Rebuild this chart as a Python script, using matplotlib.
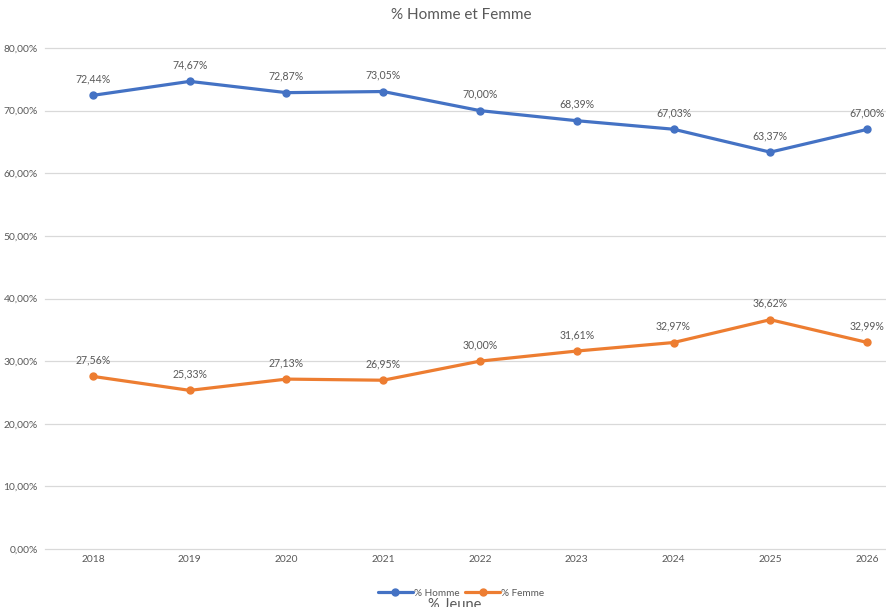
import matplotlib
matplotlib.use("Agg")
import matplotlib.pyplot as plt

years = ["2018", "2019", "2020", "2021", "2022", "2023", "2024", "2025", "2026"]
homme = [72.44, 74.67, 72.87, 73.05, 70.00, 68.39, 67.03, 63.37, 67.00]
femme = [27.56, 25.33, 27.13, 26.95, 30.00, 31.61, 32.97, 36.62, 32.99]
series_names = ["% Homme", "% Femme"]
yticks = [0, 10, 20, 30, 40, 50, 60, 70, 80]

plt.rcParams['font.family'] = ['Lato', 'DejaVu Sans']
W, H = 886, 607
fig = plt.figure(figsize=(W/100, H/100), dpi=100)
left_px, right_px = 44.6, 915.4
top_px, bot_px = 48, 549
ax = fig.add_axes([left_px/W, 1-bot_px/H, (right_px-left_px)/W, (bot_px-top_px)/H])

txt = "#595959"
blue = "#4472C4"
orange = "#ED7D31"
x = list(range(len(years)))
ax.plot(x, homme, color=blue, lw=2.3, marker='o', ms=5, label=series_names[0], solid_capstyle='round')
ax.plot(x, femme, color=orange, lw=2.3, marker='o', ms=5, label=series_names[1], solid_capstyle='round')
for xi, v in zip(x, homme):
    ax.annotate(f"{v:.2f}%".replace('.', ','), (xi, v), xytext=(0, 8), textcoords='offset points',
                ha='center', va='bottom', fontsize=7.6, color=txt)
for xi, v in zip(x, femme):
    ax.annotate(f"{v:.2f}%".replace('.', ','), (xi, v), xytext=(0, 8), textcoords='offset points',
                ha='center', va='bottom', fontsize=7.6, color=txt)

ax.set_xlim(-0.5, len(years)-0.5)
ax.set_ylim(0, 80)
ax.set_yticks(yticks)
ax.set_yticklabels([f"{t:.2f}%".replace('.', ',') for t in yticks])
ax.set_xticks(x)
ax.set_xticklabels(years)
ax.tick_params(axis='both', length=0, labelsize=7.4, colors=txt)
ax.tick_params(axis='y', pad=5)
ax.tick_params(axis='x', pad=4)
ax.grid(axis='y', color="#D9D9D9", lw=0.9)
for gl in ax.get_ygridlines():
    gl.set_clip_on(False)
ax.set_axisbelow(True)
for s in ax.spines.values():
    s.set_visible(False)

fig.text(461/W, 1-15/H, "% Homme et Femme", ha='center', va='center', fontsize=11, color=txt)
leg = fig.legend(loc='center', bbox_to_anchor=(461/W, 1-593/H), ncol=2, frameon=False,
                 fontsize=7.2, handlelength=3.5, columnspacing=0.6, handletextpad=0.1,
                 labelcolor=txt)
fig.text(455/W, 1-598/H, "% Jeune", ha='center', va='top', fontsize=10.5, color=txt)

fig.savefig("out.png", dpi=100)
